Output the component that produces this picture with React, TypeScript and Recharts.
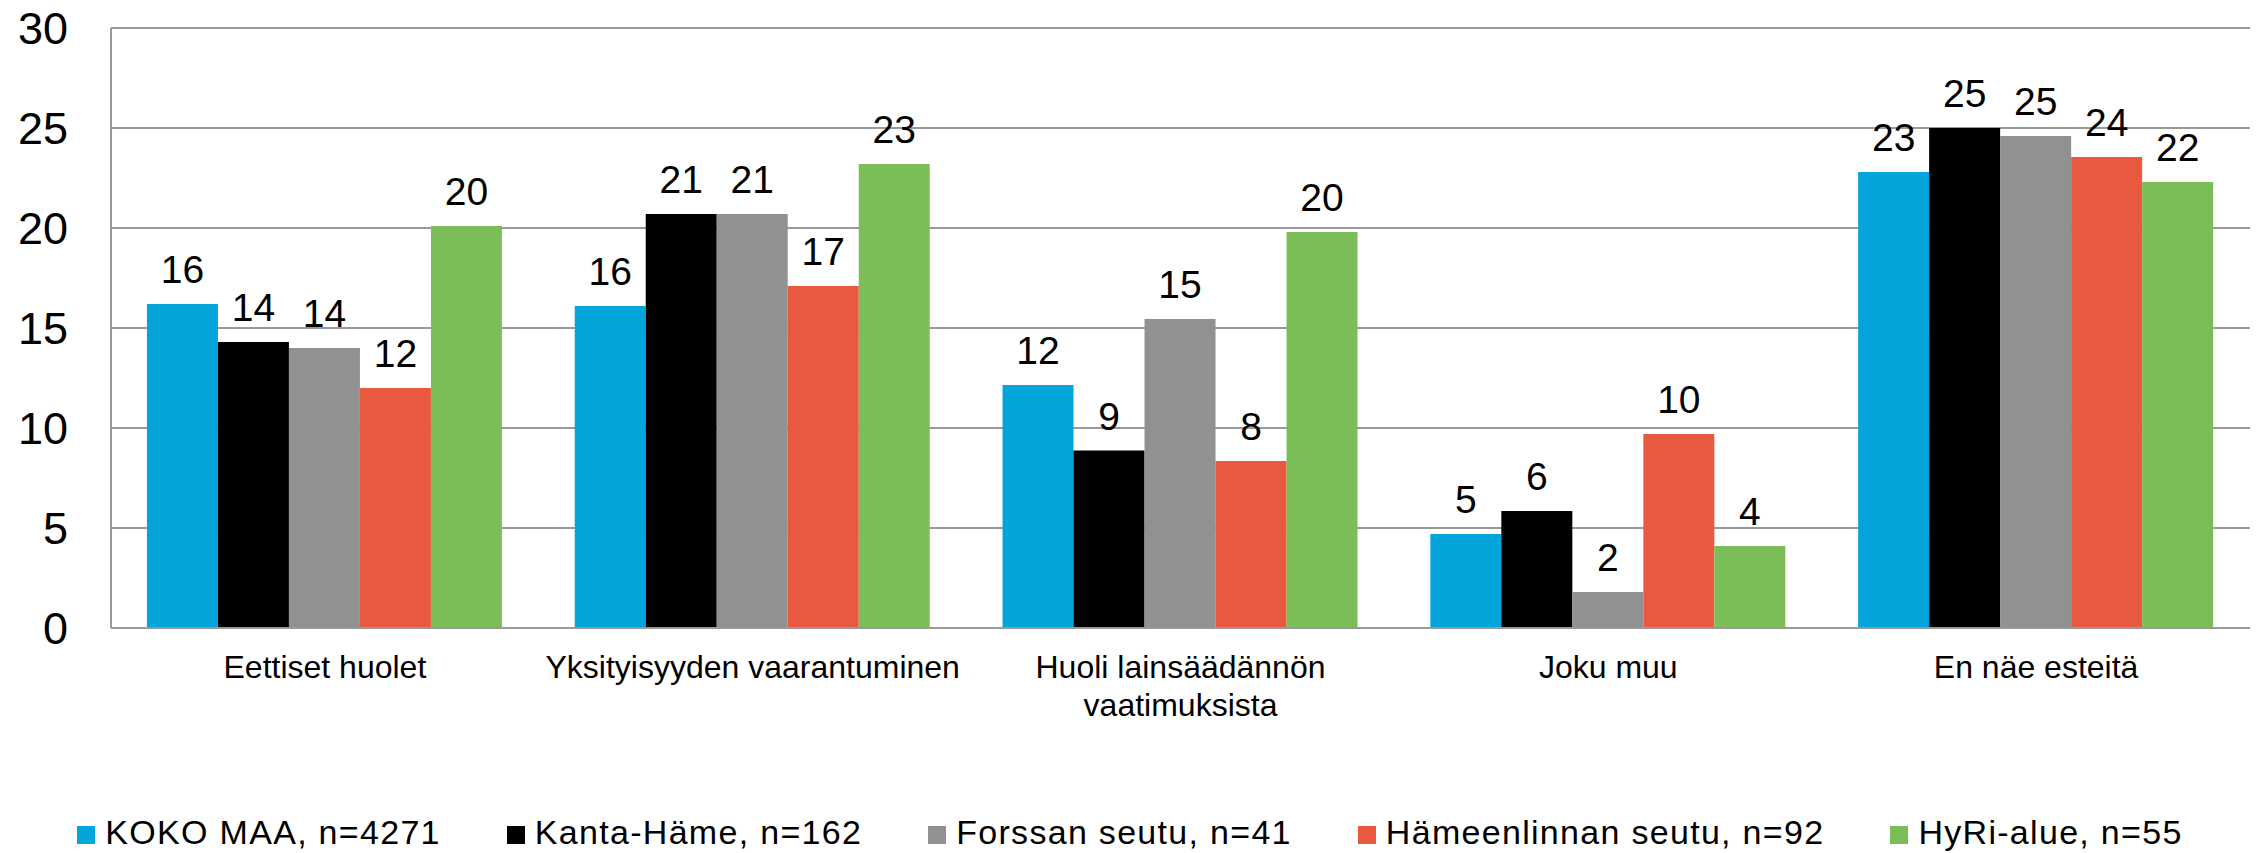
import React from "react";
import { BarChart, Bar, XAxis, YAxis, CartesianGrid, Legend, LabelList } from "recharts";

const FONT = "'Liberation Sans', Arial, sans-serif";

const categories = [
  "Eettiset huolet",
  "Yksityisyyden vaarantuminen",
  "Huoli lainsäädännön vaatimuksista",
  "Joku muu",
  "En näe esteitä",
];

const seriesNames = [
  "KOKO MAA, n=4271",
  "Kanta-Häme, n=162",
  "Forssan seutu, n=41",
  "Hämeenlinnan seutu, n=92",
  "HyRi-alue, n=55",
];

const kokoMaa = [16.2, 16.1, 12.15, 4.7, 22.8];
const kantaHame = [14.3, 20.7, 8.87, 5.85, 25.0];
const forssa = [14.0, 20.7, 15.45, 1.8, 24.6];
const hameenlinna = [12.0, 17.1, 8.35, 9.7, 23.55];
const hyri = [20.1, 23.2, 19.8, 4.1, 22.3];

const yTicks = [0, 5, 10, 15, 20, 25, 30];

const colors = ["#03A5DA", "#000000", "#919191", "#E85940", "#7BBD56"];

const seriesValues = [kokoMaa, kantaHame, forssa, hameenlinna, hyri];
const keys = ["s0", "s1", "s2", "s3", "s4"];

const data = categories.map((c, i) => {
  const row: Record<string, any> = { name: c };
  keys.forEach((k, j) => {
    row[k] = seriesValues[j][i];
  });
  return row;
});

function splitLabel(s: string): string[] {
  if (s.length <= 28) return [s];
  const mid = s.length / 2;
  let best = -1;
  for (let i = 0; i < s.length; i++) {
    if (s[i] === " " && (best < 0 || Math.abs(i - mid) < Math.abs(best - mid))) best = i;
  }
  if (best < 0) return [s];
  return [s.slice(0, best), s.slice(best + 1)];
}

const XTick = (props: any) => {
  const { x, y, payload } = props;
  const lines = splitLabel(String(payload.value));
  return (
    <g>
      {lines.map((l, i) => (
        <text
          key={i}
          x={x}
          y={y + 50 + i * 38}
          textAnchor="middle"
          fontSize={32}
          fontFamily={FONT}
          fill="#000"
        >
          {l}
        </text>
      ))}
    </g>
  );
};

const renderLegend = () => {
  return (
    <div
      style={{
        height: 100,
        width: 2260,
        boxSizing: "border-box",
        paddingTop: 62,
        display: "flex",
        justifyContent: "center",
        fontFamily: FONT,
      }}
    >
      {seriesNames.map((name, i) => (
        <div
          key={i}
          style={{
            display: "flex",
            alignItems: "center",
            marginRight: i < seriesNames.length - 1 ? 66 : 0,
            height: 34,
          }}
        >
          <div style={{ width: 18, height: 18, background: colors[i], marginRight: 10, marginTop: 6 }} />
          <span style={{ fontSize: 34, lineHeight: "34px", color: "#000", letterSpacing: 1.3, whiteSpace: "nowrap" }}>
            {name}
          </span>
        </div>
      ))}
    </div>
  );
};

export default function App() {
  return (
    <div style={{ position: "absolute", left: 0, top: 0, width: 2260, height: 853, background: "#fff", fontFamily: FONT }}>
      <BarChart
        width={2260}
        height={853}
        data={data}
        margin={{ top: 28, right: 10, left: 0, bottom: 0 }}
        barCategoryGap="8.4%"
        barGap={0}
      >
        <CartesianGrid vertical={false} stroke="#999999" strokeWidth={2} />
        <XAxis
          dataKey="name"
          height={125}
          tick={<XTick />}
          tickLine={false}
          tickSize={0}
          tickMargin={0}
          axisLine={{ stroke: "#999999", strokeWidth: 2 }}
          interval={0}
        />
        <YAxis
          width={111}
          domain={[0, 30]}
          ticks={yTicks}
          tickLine={false}
          tickSize={0}
          tickMargin={43}
          axisLine={{ stroke: "#999999", strokeWidth: 2 }}
          tick={{ fontSize: 45, fill: "#000", fontFamily: FONT }}
          interval={0}
        />
        <YAxis
          yAxisId="r"
          orientation="right"
          width={0}
          domain={[0, 30]}
          ticks={yTicks}
          tick={false}
          tickLine={false}
          axisLine={{ stroke: "#999999", strokeWidth: 2 }}
        />
        <Legend verticalAlign="bottom" height={100} content={renderLegend} wrapperStyle={{ left: 0, width: 2260 }} />
        {keys.map((k, j) => (
          <Bar key={k} dataKey={k} name={seriesNames[j]} fill={colors[j]} isAnimationActive={false}>
            <LabelList
              dataKey={k}
              position="top"
              offset={21}
              formatter={(v: any) => Math.round(Number(v))}
              style={{ fontSize: 39, fill: "#000", fontFamily: FONT }}
            />
          </Bar>
        ))}
      </BarChart>
    </div>
  );
}
